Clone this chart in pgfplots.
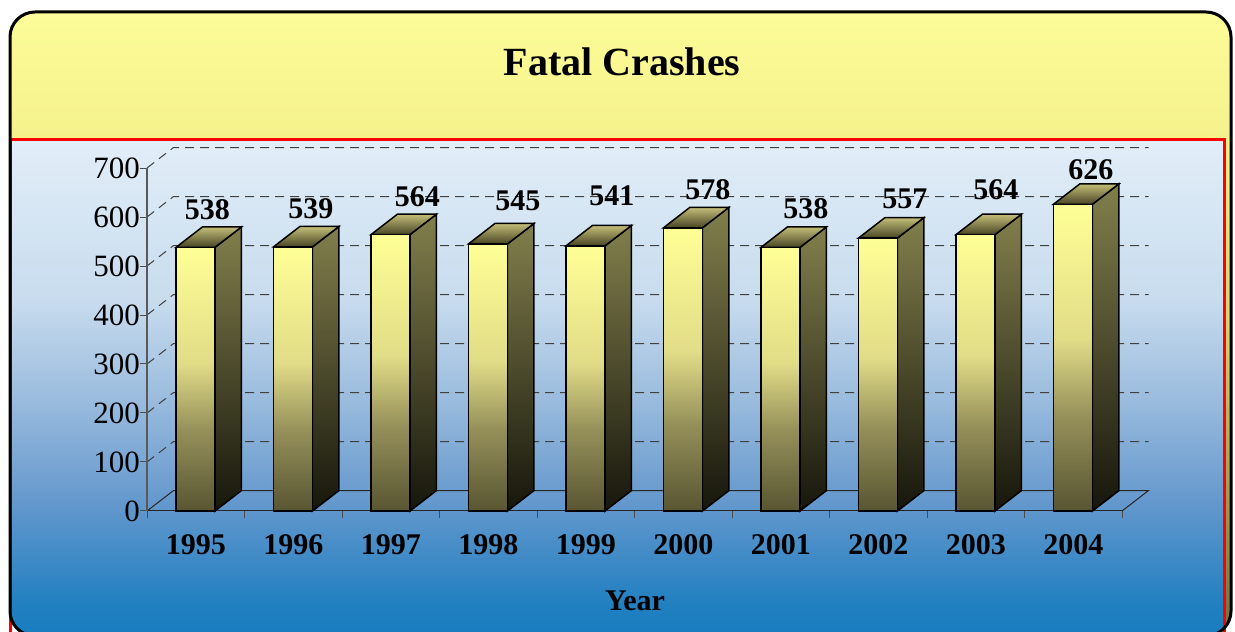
\documentclass[border=0pt]{standalone}
\usepackage{pgfplots}
\pgfplotsset{compat=1.18}
\usepackage{pgfplotstable}
\usepackage{fontspec}
\setmainfont{Liberation Serif}

\definecolor{fbot}{RGB}{88,85,50}
\definecolor{fmA}{RGB}{150,145,90}
\definecolor{fmB}{RGB}{225,220,135}
\definecolor{ftop}{RGB}{255,255,150}
\definecolor{stop}{RGB}{130,127,76}
\definecolor{sbot}{RGB}{22,22,12}
\definecolor{ttop}{RGB}{195,190,120}
\definecolor{tbot}{RGB}{72,68,36}
\definecolor{bA}{RGB}{226,238,248}
\definecolor{bB}{RGB}{200,220,238}
\definecolor{bC}{RGB}{155,188,222}
\definecolor{bD}{RGB}{100,152,205}
\definecolor{bE}{RGB}{35,128,193}
\definecolor{bF}{RGB}{22,125,190}
\definecolor{yA}{RGB}{252,252,152}
\definecolor{yB}{RGB}{245,242,140}
\definecolor{yC}{RGB}{215,210,120}
\definecolor{yD}{RGB}{115,110,60}

\pgfdeclareverticalshading{barfront}{100bp}{color(0bp)=(fbot); color(25bp)=(fbot); color(40.5bp)=(fmA); color(53bp)=(fmB); color(75bp)=(ftop); color(100bp)=(ftop)}
\pgfdeclareverticalshading{barside}{100bp}{color(0bp)=(sbot); color(25bp)=(sbot); color(75bp)=(stop); color(100bp)=(stop)}
\pgfdeclareverticalshading{bartop}{100bp}{color(0bp)=(tbot); color(25bp)=(tbot); color(75bp)=(ttop); color(100bp)=(ttop)}
\pgfdeclareverticalshading{bgblue}{100bp}{color(0bp)=(bF); color(25bp)=(bF); color(28.5bp)=(bE); color(38.5bp)=(bD); color(49bp)=(bC); color(59bp)=(bB); color(75bp)=(bA); color(100bp)=(bA)}
\pgfdeclareverticalshading{yellowbg}{100bp}{color(0bp)=(yD); color(25bp)=(yD); color(50bp)=(yC); color(65bp)=(yB); color(75bp)=(yA); color(100bp)=(yA)}

% v = value; lx, ly = label offset (px) from the bar centre / back top edge
\pgfplotstableread{
year v   lx   ly
1995 538 11.5 7
1996 539 17.5 8.4
1997 564 26.5 7.5
1998 545 29.5 12.8
1999 541 26   20.4
2000 578 24.5 7.3
2001 538 25   8.6
2002 557 26.5 9.3
2003 564 20   14.9
2004 626 17.5 4.5
}\fatal

\pgfplotsset{
  frontface/.style={draw=black, line width=0.75pt, shade, shading=barfront, mark=none},
  sideface/.style={draw=black, line width=0.75pt, shade, shading=barside, mark=none},
  topface/.style={draw=black, line width=0.75pt, shade, shading=bartop, mark=none},
  gridl/.style={draw=black!75, line width=0.5pt, dash pattern=on 4.5pt off 3pt, mark=none},
  floorl/.style={draw=black!85, line width=0.5pt, mark=none},
}
\tikzset{vallabel/.style={anchor=base, inner sep=0pt, font=\bfseries\fontsize{15}{18}\selectfont}}

\begin{document}
\begin{tikzpicture}[x=0.5pt,y=0.5pt]
\useasboundingbox (0,0) rectangle (1235,631);
\begin{scope}
  \clip[rounded corners=12.5pt] (10,-5) rectangle (1231,619);
  \shade[shading=yellowbg] (10,-5) rectangle (1231,619);
  \shade[shading=bgblue] (10,-5) rectangle (1224,491);
\end{scope}
\draw[red, line width=1.5pt] (10,491) -- (1224,491) -- (1224,-10);
\draw[red, line width=1.5pt] (10,491) -- (10,-10);
\draw[black, line width=1.5pt, rounded corners=12.5pt] (10,-5) rectangle (1231,619);

\node[font=\bfseries\fontsize{20}{24}\selectfont] at (622,569) {Fatal Crashes};
\node[font=\bfseries\fontsize{15}{18}\selectfont] at (635,30) {Year};

\begin{axis}[
  at={(73.5pt,60pt)}, anchor=south west,
  x=48.75pt, y=0.245pt,
  xmin=0, xmax=10.3, ymin=0, ymax=745,
  clip=false,
  axis line style={draw=none},
  xtick={0,1,...,10},
  x tick label as interval,
  xticklabels={1995,1996,1997,1998,1999,2000,2001,2002,2003,2004},
  ytick={0,100,...,700},
  xtick pos=bottom, ytick pos=left,
  tick align=outside,
  major tick length=3.5pt,
  tick style={draw=black!70, line width=0.5pt},
  /pgf/number format/assume math mode=true,
  xticklabel style={font=\bfseries\fontsize{15}{18}\selectfont, text height=10.5pt, text depth=0pt, yshift=-4pt},
  yticklabel style={font=\fontsize{15.5}{18}\selectfont, xshift=3.5pt},
]
% back wall grid
\addplot[gridl] coordinates {(0,100) (0.272,141.8) (10.272,141.8)};
\addplot[gridl] coordinates {(0,200) (0.272,241.8) (10.272,241.8)};
\addplot[gridl] coordinates {(0,300) (0.272,341.8) (10.272,341.8)};
\addplot[gridl] coordinates {(0,400) (0.272,441.8) (10.272,441.8)};
\addplot[gridl] coordinates {(0,500) (0.272,541.8) (10.272,541.8)};
\addplot[gridl] coordinates {(0,600) (0.272,641.8) (10.272,641.8)};
\addplot[gridl] coordinates {(0,700) (0.272,741.8) (10.272,741.8)};
% floor
\addplot[floorl] coordinates {(0,0) (0.272,41.8) (10.272,41.8) (10,0)};
\addplot[floorl] coordinates {(0,0) (10,0)};
\addplot[draw=black!65, line width=0.6pt, mark=none] coordinates {(0,0) (0,700)};
% bars
\pgfplotsinvokeforeach{0,...,9}{
  \pgfplotstablegetelem{#1}{v}\of\fatal
  \pgfmathtruncatemacro\bvi{\pgfplotsretval}
  \pgfplotstablegetelem{#1}{lx}\of\fatal
  \pgfmathsetmacro\xl{#1+0.5+\pgfplotsretval/97.5}
  \pgfplotstablegetelem{#1}{ly}\of\fatal
  \pgfmathsetmacro\ysh{\pgfplotsretval*0.5}
  \pgfmathsetmacro\bv{\bvi}
  \pgfmathsetmacro\xa{#1+0.297}
  \pgfmathsetmacro\xb{#1+0.697}
  \pgfmathsetmacro\xc{#1+0.969}
  \pgfmathsetmacro\xd{#1+0.569}
  \pgfmathsetmacro\vt{\bv+41.8}
  \edef\temp{%
    \noexpand\addplot[sideface] coordinates {(\xb,0) (\xc,41.8) (\xc,\vt) (\xb,\bv)} -- cycle;
    \noexpand\addplot[topface] coordinates {(\xa,\bv) (\xb,\bv) (\xc,\vt) (\xd,\vt)} -- cycle;
    \noexpand\addplot[frontface] coordinates {(\xa,0) (\xb,0) (\xb,\bv) (\xa,\bv)} -- cycle;
    \noexpand\node[vallabel, yshift=\ysh pt] at (axis cs:\xl,\vt) {\bvi};
  }%
  \temp
}
\end{axis}
\end{tikzpicture}
\end{document}
